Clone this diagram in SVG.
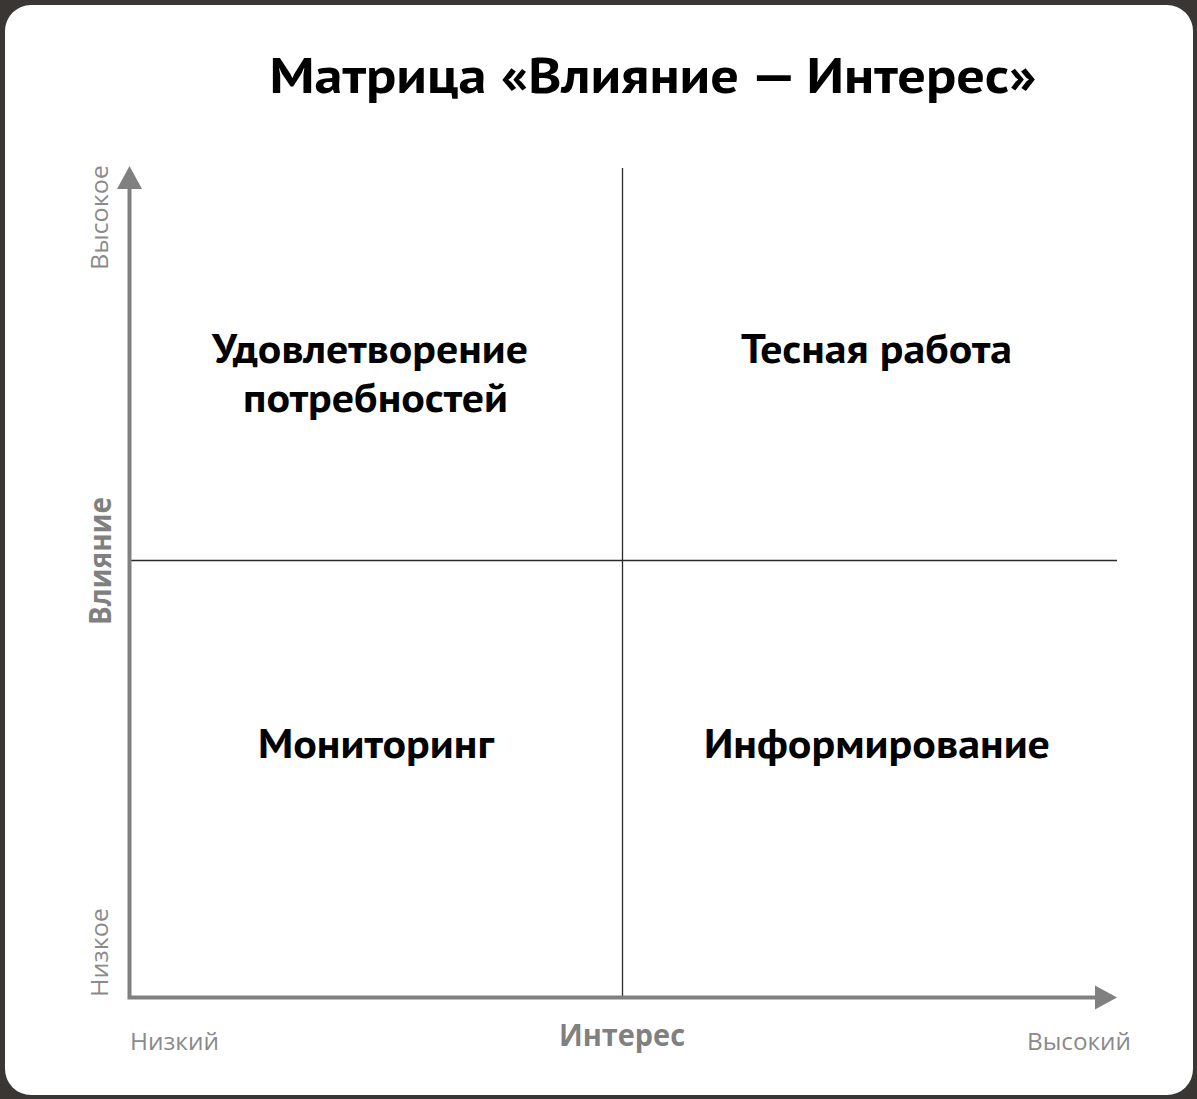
<svg xmlns="http://www.w3.org/2000/svg" width="1197" height="1099" viewBox="0 0 1197 1099">
<style>
.title{font-family:"PT Sans","Open Sans","Noto Sans",sans-serif;font-weight:bold;font-size:50px;fill:#000;text-anchor:middle}
.q{font-family:"PT Sans","Open Sans","Noto Sans",sans-serif;font-weight:bold;font-size:40px;fill:#000;text-anchor:middle}
.ax{font-family:"Open Sans","Noto Sans",sans-serif;font-size:24px;fill:#8a8a8a}
.axb{font-family:"Open Sans","Noto Sans",sans-serif;font-weight:bold;font-size:31px;fill:#808080;text-anchor:middle}
.axis{stroke:#808080;stroke-width:4;fill:none}
.grid{stroke:#2a2a2a;stroke-width:1.3;fill:none}
</style>
<rect x="0" y="0" width="1197" height="1099" fill="#3a3633"/>
<rect x="5" y="5" width="1188" height="1090" rx="26" ry="26" fill="#ffffff"/>
<text id="title" class="title" x="653" y="93" textLength="767" lengthAdjust="spacingAndGlyphs">Матрица «Влияние — Интерес»</text>
<g id="connectors">
<line class="grid" x1="622.5" y1="168" x2="622.5" y2="997"/>
<line class="grid" x1="129" y1="560.5" x2="1117" y2="560.5"/>
<polyline class="axis" points="129.5,186 129.5,997.5 1097,997.5"/>
<polygon points="129.5,166 117,189 142,189" fill="#808080"/>
<polygon points="1117,997.5 1095,985.5 1095,1009.5" fill="#808080"/>
</g>
<g id="q-satisfy"><text class="q" x="370" y="363" textLength="316" lengthAdjust="spacingAndGlyphs">Удовлетворение</text><text class="q" x="375.5" y="412" textLength="265" lengthAdjust="spacingAndGlyphs">потребностей</text></g>
<g id="q-close"><text class="q" x="876.5" y="363" textLength="271" lengthAdjust="spacingAndGlyphs">Тесная работа</text></g>
<g id="q-monitor"><text class="q" x="376" y="758" textLength="236" lengthAdjust="spacingAndGlyphs">Мониторинг</text></g>
<g id="q-inform"><text class="q" x="877" y="758" textLength="346" lengthAdjust="spacingAndGlyphs">Информирование</text></g>
<g id="y-axis-labels">
<text class="ax" transform="translate(108,217.5) rotate(-90)" text-anchor="middle" textLength="105" lengthAdjust="spacingAndGlyphs">Высокое</text>
<text class="axb" transform="translate(111,561) rotate(-90)" textLength="128" lengthAdjust="spacingAndGlyphs">Влияние</text>
<text class="ax" transform="translate(108,952.5) rotate(-90)" text-anchor="middle" textLength="89" lengthAdjust="spacingAndGlyphs">Низкое</text>
</g>
<g id="x-axis-labels">
<text class="ax" x="130" y="1050" textLength="89" lengthAdjust="spacingAndGlyphs">Низкий</text>
<text class="axb" x="622" y="1046" textLength="126" lengthAdjust="spacingAndGlyphs">Интерес</text>
<text class="ax" x="1131" y="1050" text-anchor="end" textLength="104" lengthAdjust="spacingAndGlyphs">Высокий</text>
</g>
</svg>
